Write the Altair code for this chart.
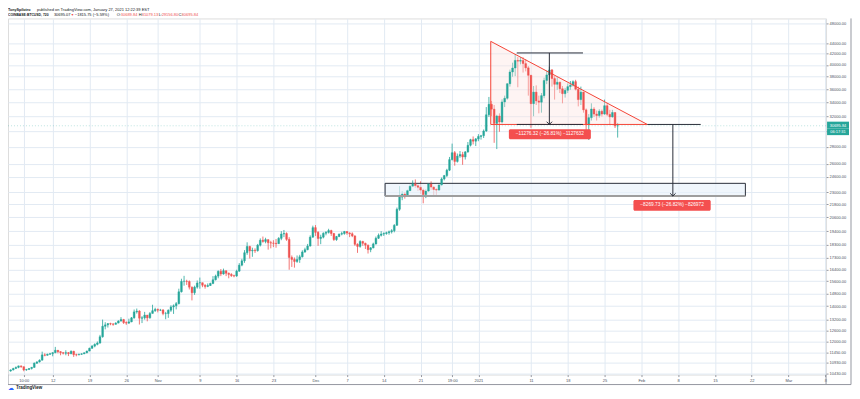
import altair as alt
import pandas as pd

FONT = "Liberation Sans"
UP, DOWN = "#26a69a", "#ef5350"

# ---------------- 12h candles, COINBASE:BTCUSD ----------------
# bar index counts 12h steps from 2020-10-01 00:00 UTC; first bar = Oct 4 00:00
bar_start = 6
first_open = 10550

closes = [
    # Oct 4 - Oct 31
    10600, 10670, 10720, 10790, 10750, 10600, 10620, 10670, 10720, 10920, 10980, 11060, 11320, 11300,
    11350, 11380, 11430, 11550, 11480, 11430, 11400, 11430, 11380, 11500, 11330, 11320, 11350, 11370,
    11420, 11510, 11650, 11760, 11850, 11920, 12250, 12820, 12900, 12970, 12950, 12930, 13000, 13120,
    13200, 13030, 13000, 13070, 13300, 13650, 13700, 13280, 13300, 13460, 13300, 13560, 13720, 13800,
    # Nov
    13750, 13760, 13550, 13550, 13750, 13950, 14020, 14150, 14900, 15590, 15600, 15580, 15200, 14840,
    15200, 15480, 15500, 15330, 15250, 15310, 15450, 15700, 15950, 16290, 16100, 16330, 16150, 16070,
    15980, 15960, 16300, 16730, 17050, 17660, 18150, 17800, 17850, 17820, 18250, 18650, 18550, 18700,
    18450, 18420, 18400, 18370, 18800, 19160, 19200, 18720, 17300, 17150, 17000, 17140, 17350, 17720,
    17900, 18180, 18900, 19700,
    # Dec
    19300, 18790, 18900, 19220, 19300, 19450, 19200, 18700, 18950, 19150, 19200, 19370, 19250, 19180,
    19000, 18320, 18150, 18550, 18400, 18250, 17900, 18040, 18350, 18810, 19050, 19160, 19200, 19270,
    19350, 19440, 19900, 21340, 22500, 22800, 22700, 23140, 23600, 23860, 23650, 23480, 23200, 22740,
    23100, 23830, 23500, 23260, 23200, 23730, 24350, 24710, 25300, 26490, 27300, 26280, 26900, 27080,
    26800, 27390, 28200, 28890, 28700, 28990,
    # Jan
    29300, 29400, 30000, 32200, 33700, 33000, 31000, 32030, 31200, 34050, 34600, 36860, 38800, 39470,
    40800, 40670, 40800, 40240, 39500, 38240, 33800, 35540, 34200, 34010, 35000, 37390, 38300, 39140,
    37700, 36770, 37100, 36060, 35300, 35820, 36400, 36640, 37200, 35990, 34400, 35540, 32900, 30850,
    31800, 33020, 32300, 32100, 32700, 32300, 33500, 32260, 31900, 32520, 30690, 30696,
]

highs = [
    10630, 10700, 10760, 10800, 10800, 10760, 10650, 10690, 10740, 10950, 11010, 11100, 11480, 11400,
    11380, 11420, 11450, 11720, 11560, 11500, 11450, 11550, 11460, 11540, 11520, 11380, 11380, 11400,
    11450, 11530, 11680, 11820, 11900, 12000, 12350, 13200, 13050, 13000, 13020, 13000, 13050, 13160,
    13340, 13240, 13100, 13250, 13350, 13790, 13850, 13750, 13400, 13650, 13470, 13640, 14080, 13900,
    13850, 13830, 13820, 13650, 13800, 14050, 14100, 14250, 15100, 15770, 15970, 15700, 15650, 15250,
    15300, 15650, 15850, 15500, 15400, 15450, 15500, 15950, 16050, 16350, 16450, 16480, 16340, 16200,
    16150, 16050, 16400, 16880, 17200, 17860, 18480, 18200, 18050, 18000, 18350, 18800, 18950, 18850,
    18700, 18600, 18650, 18750, 18900, 19400, 19500, 19300, 18900, 17450, 17300, 17450, 17500, 17850,
    18050, 18350, 19050, 19870,
    19920, 19400, 19100, 19300, 19400, 19600, 19520, 19250, 19000, 19200, 19350, 19420, 19400, 19300,
    19300, 19050, 18400, 18650, 18600, 18450, 18300, 18100, 18450, 18950, 19200, 19400, 19300, 19350,
    19450, 19570, 20000, 21500, 23600, 23100, 23000, 23250, 23800, 24200, 24300, 23800, 24100, 23350,
    23300, 23900, 24100, 23600, 23400, 23800, 24500, 24780, 25450, 26800, 28400, 27500, 27200, 27500,
    27400, 27500, 28600, 29000, 29300, 29100,
    29600, 29500, 30200, 33300, 34800, 34200, 33600, 32200, 32400, 34450, 35000, 36950, 39200, 40400,
    41950, 41400, 41400, 41350, 41000, 39800, 38300, 36500, 36600, 35000, 35400, 37850, 39000, 39700,
    39300, 38100, 37900, 37200, 36500, 36200, 36900, 37300, 37400, 37500, 36400, 36400, 35600, 33100,
    32300, 33850, 33300, 32800, 33000, 32950, 34400, 33900, 32900, 32900, 32560, 31079,
]

lows = [
    10520, 10580, 10640, 10680, 10700, 10540, 10560, 10600, 10620, 10700, 10880, 10950, 11050, 11250,
    11280, 11320, 11250, 11400, 11400, 11300, 11340, 11300, 11260, 11350, 11220, 11250, 11300, 11320,
    11360, 11400, 11500, 11620, 11700, 11800, 11880, 12200, 12650, 12750, 12880, 12850, 12920, 12990,
    13080, 12950, 12900, 12950, 13050, 13250, 13550, 12920, 13000, 13200, 13100, 13250, 13550, 13650,
    13620, 13700, 13450, 13220, 13300, 13650, 13530, 13800, 14100, 14850, 15300, 15350, 15050, 14350,
    14700, 15100, 15100, 15200, 15100, 15200, 15280, 15400, 15650, 15800, 15950, 16050, 15950, 15800,
    15900, 15870, 15900, 16250, 16650, 16900, 17500, 17220, 17350, 17650, 17750, 18150, 18450, 18400,
    17900, 18000, 18100, 18050, 18350, 18650, 18900, 18600, 16400, 16600, 16550, 16900, 16900, 17300,
    17650, 17850, 18150, 18850,
    19000, 18200, 18330, 18800, 19050, 19200, 19000, 18600, 18600, 18900, 19050, 19100, 19100, 18900,
    18900, 18200, 17650, 18050, 18200, 17950, 17600, 17700, 18000, 18300, 18750, 18950, 19000, 19100,
    19100, 19200, 19300, 19850, 21200, 22200, 22350, 22600, 23100, 23500, 23400, 23100, 22800, 21900,
    22400, 23000, 23200, 22600, 22700, 23100, 23600, 24200, 24550, 25200, 26400, 25800, 26150, 26700,
    25900, 26500, 27300, 28050, 28300, 28100,
    28700, 28900, 29100, 29900, 31900, 32000, 28500, 27734, 29900, 31000, 33300, 34400, 36400, 38000,
    38100, 36300, 40100, 38700, 38900, 35000, 30420, 32000, 33600, 32400, 32500, 34600, 36800, 37500,
    36400, 34400, 35900, 35400, 33850, 34700, 35400, 35900, 36400, 35800, 33400, 33600, 32500, 30071,
    28850, 31400, 31900, 31400, 31800, 31950, 32200, 32000, 30850, 31800, 30400, 29157,
]

opens = [first_open] + closes[:-1]
bars = list(range(bar_start, bar_start + len(closes)))
candles = pd.DataFrame({"i": bars, "o": opens, "h": highs, "l": lows, "c": closes})
candles["dir"] = ["up" if c >= o else "down" for o, c in zip(opens, closes)]
candles["bl"] = candles[["o", "c"]].min(axis=1)
candles["bh"] = candles[["o", "c"]].max(axis=1)
candles["x0"] = candles["i"] - 0.34
candles["x1"] = candles["i"] + 0.34

# ---------------- axes ----------------
tick_pos = [11, 22, 36, 50, 62, 78, 92, 106, 122, 134, 148, 162, 174, 184, 204, 218, 232, 246, 260, 274, 288, 302, 316]
tick_lab = ["10:00", "12", "19", "26", "Nov", "9", "16", "23", "Dec", "7", "14", "21", "19:00", "2021",
            "11", "18", "25", "Feb", "8", "15", "22", "Mar", "8"]
price_ticks = [48000, 44000, 42000, 40000, 38000, 36000, 34000, 32000, 30000, 28000, 26000, 24600, 23000,
               21800, 20600, 19400, 18300, 17300, 16400, 15600, 14800, 14000, 13200, 12600, 12000,
               11450, 10930, 10430]

# ---------------- drawings ----------------
tri_i = [188.7, 188.7, 248.3, 188.7]
tri_p = [30874, 44330, 30874, 30874]
meas_x0 = [198.6, 211.0, 198.6, 248.3, 258.0]
meas_x1 = [223.8, 211.0, 223.8, 268.6, 258.0]
meas_p0 = [42150, 42150, 30874, 30874, 30874]
meas_p1 = [42150, 30874, 30874, 30874, 22604]
arrow_i = [211.0, 258.0]
arrow_p = [30874, 22604]
box_i = [148.5, 285.6]
box_p = [22604, 23890]
tag_i0 = [195.6, 243.0]
tag_i1 = [226.8, 272.4]
tag_p0 = [28950, 21210]
tag_p1 = [30240, 22220]
tag_pm = [29590, 21710]
tag_text = ["\u221211276.32 (\u221226.81%) \u22121127632", "\u22128269.73 (\u221226.82%) \u2212826972"]
last_price = 30695.84
marker_p0 = [30310, 29470]
marker_p1 = [31250, 30310]
marker_text = ["30695.84", "06:17:31"]
marker_tp = [30695.84, 29880]

W, H = 820, 357
GRID = "#e2eaf3"
xs = alt.Scale(domain=[5.0, 316.3], nice=False, zero=False)
ys = alt.Scale(type="log", domain=[10389, 48984], nice=False, zero=False)
cs = alt.Scale(domain=["up", "down"], range=[UP, DOWN])

label_expr = "".join(f"datum.value == {p} ? '{l}' : " for p, l in zip(tick_pos, tick_lab)) + "''"
x_axis = alt.Axis(values=tick_pos, labelExpr=label_expr, grid=True, gridColor=GRID, domain=False,
                  ticks=True, tickSize=2, tickColor="#9598a1", labelFontSize=4, labelColor="#4c525e",
                  labelPadding=2, title=None, labelOverlap=False, labelFlush=False, labelFont=FONT)
y_axis = alt.Axis(orient="right", values=price_ticks, format=".2f", grid=True, gridColor=GRID,
                  domain=False, ticks=True, tickSize=2, tickColor="#9598a1", labelFontSize=4,
                  labelColor="#4c525e", labelPadding=1, title=None, labelOverlap=False,
                  labelFlush=False, labelFont=FONT)


def X(f):
    return alt.X(f, type="quantitative", scale=xs, axis=x_axis)


def Y(f):
    return alt.Y(f, type="quantitative", scale=ys, axis=y_axis)


one = pd.DataFrame({"k": [0]})

box_df = pd.DataFrame({"i0": [box_i[0]], "i1": [box_i[1]], "p0": [box_p[0]], "p1": [box_p[1]]})
box = alt.Chart(box_df).mark_rect(fill="#eaf2fb", fillOpacity=0.7, stroke="#2a2e39", strokeWidth=1).encode(
    x=X("i0"), x2="i1:Q", y=Y("p0"), y2="p1:Q")
box_base = alt.Chart(box_df).mark_rule(color="#9e9e9e", strokeWidth=2).encode(
    x=X("i0"), x2="i1:Q", y=Y("p0"))

tri_fill_df = pd.DataFrame({"i": [tri_i[1], tri_i[2]], "top": [tri_p[1], tri_p[2]], "base": [tri_p[0], tri_p[0]]})
tri_fill = alt.Chart(tri_fill_df).mark_area(color="#fde3e1", opacity=0.4).encode(
    x=X("i"), y=Y("top"), y2="base:Q")

wicks = alt.Chart(candles).mark_rule(strokeWidth=0.8).encode(
    x=X("i"), y=Y("l"), y2="h:Q",
    color=alt.Color("dir:N", scale=cs, legend=None))
bodies = alt.Chart(candles).mark_rect(strokeWidth=0.4).encode(
    x=X("x0"), x2="x1:Q", y=Y("bl"), y2="bh:Q",
    color=alt.Color("dir:N", scale=cs, legend=None),
    stroke=alt.Stroke("dir:N", scale=cs, legend=None))

price_line = alt.Chart(pd.DataFrame({"p": [last_price]})).mark_rule(
    color=UP, strokeWidth=1, strokeDash=[1, 2], opacity=0.3).encode(
    x=alt.value(0), x2=alt.value(W), y=Y("p"))

tri_df = pd.DataFrame({"i": tri_i, "p": tri_p, "o": list(range(len(tri_i)))})
tri_line = alt.Chart(tri_df).mark_line(color="#f44336", strokeWidth=1).encode(
    x=X("i"), y=Y("p"), order="o:Q")

meas_df = pd.DataFrame({"x0": meas_x0, "x1": meas_x1, "p0": meas_p0, "p1": meas_p1})
meas = alt.Chart(meas_df).mark_rule(color="#2a2e39", strokeWidth=1).encode(
    x=X("x0"), x2="x1:Q", y=Y("p0"), y2="p1:Q")

arrows = alt.Chart(pd.DataFrame({"i": arrow_i, "p": arrow_p})).mark_point(
    shape="M-1,-1L0,0L1,-1", filled=False, stroke="#2a2e39", strokeWidth=1, size=30, opacity=1).encode(
    x=X("i"), y=Y("p"))

tag_df = pd.DataFrame({"i0": tag_i0, "i1": tag_i1, "p0": tag_p0, "p1": tag_p1, "pm": tag_pm, "t": tag_text})
tag_df["im"] = (tag_df["i0"] + tag_df["i1"]) / 2
tags = alt.Chart(tag_df).mark_rect(color="#f44f4f", cornerRadius=1.5).encode(
    x=X("i0"), x2="i1:Q", y=Y("p0"), y2="p1:Q")
tag_txt = alt.Chart(tag_df).mark_text(color="white", fontSize=4.8, font=FONT, baseline="middle").encode(
    x=X("im"), y=Y("pm"), text="t:N")

mk_df = pd.DataFrame({"p0": marker_p0, "p1": marker_p1, "t": marker_text, "tp": marker_tp})
marker = alt.Chart(mk_df).mark_rect(color=UP).encode(
    x=alt.value(W + 1), x2=alt.value(W + 23), y=Y("p0"), y2="p1:Q")
marker_txt = alt.Chart(mk_df).mark_text(color="white", fontSize=4, font=FONT, baseline="middle").encode(
    x=alt.value(W + 12), y=Y("tp"), text="t:N")


def label(t, px, py, size=4.0, color="#131722", weight="normal", align="left"):
    return alt.Chart(one).mark_text(fontSize=size, font=FONT, fontWeight=weight, align=align,
                                    baseline="middle", color=color).encode(
        x=alt.value(px), y=alt.value(py), text=alt.value(t))


header = [
    label("TonySpilotro", 0, -8, size=3.7, weight="bold"),
    label("published on TradingView.com, January 27, 2021 12:22:39 EST", 29, -8),
    label("COINBASE:BTCUSD, 720", 0, -3, size=3.4, weight="bold"),
    label("30695.07", 46, -3),
    label("\u25bc", 63, -3, size=3.4, color=DOWN),
    label("\u22121815.75 (\u22125.59%)", 67, -3),
    label("O:", 109, -3), label("30689.84", 113, -3, color=DOWN),
    label("H:", 131, -3), label("31079.13", 134, -3, color=DOWN),
    label("L:", 151, -3), label("29156.80", 154, -3, color=DOWN),
    label("C:", 171, -3), label("30695.84", 174, -3, color=DOWN),
    label("\u2601", 0, 370.5, size=6, color="#2962ff"),
    label("TradingView", 8, 370.5, size=4.5, weight="bold"),
]


def rule(x0, x1, y0, y1):
    return alt.Chart(one).mark_rule(color="#9598a1", strokeWidth=1).encode(
        x=alt.value(x0), x2=alt.value(x1), y=alt.value(y0), y2=alt.value(y1))


frame = [rule(0, 845, 367, 367), rule(845, 845, 0, 367), rule(0, 0, H, 367), rule(W, W, H, 367)]

chart = alt.layer(
    wicks, box, tri_fill, bodies, box_base, price_line, tri_line, meas, arrows,
    tags, tag_txt, marker, marker_txt, *header, *frame
).properties(
    width=W, height=H,
    autosize=alt.AutoSizeParams(type="none"),
    padding={"left": 0, "top": 10, "right": 26, "bottom": 15},
).configure_view(stroke="#9598a1", strokeWidth=1).configure(font=FONT)

chart.save("out.html", embed_options={"renderer": "svg", "actions": False})
